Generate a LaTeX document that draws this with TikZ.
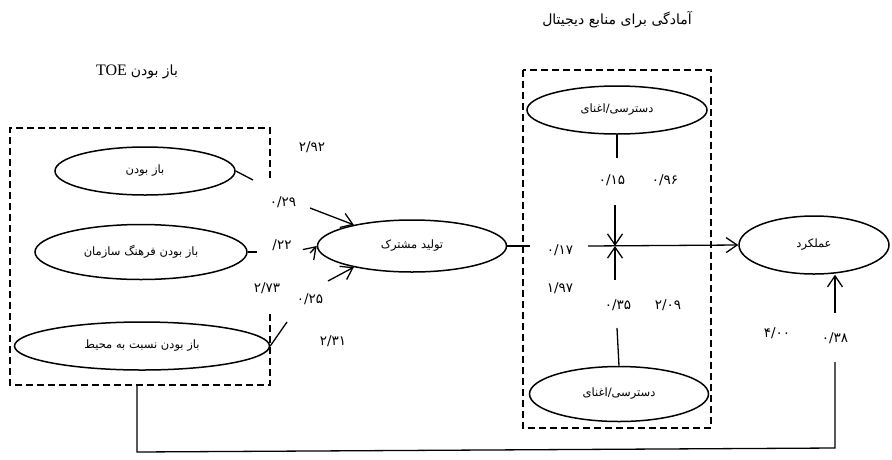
\documentclass[tikz,border=0pt]{standalone}
\usepackage{fontspec}
\setmainfont{Liberation Serif}
\newfontfamily\fa[Script=Arabic]{DejaVu Sans}
\TeXXeTstate=1
\usetikzlibrary{shapes.geometric,arrows.meta}

\begin{document}
\begin{tikzpicture}[x=1pt,y=-1pt,
    oval/.style={draw,ellipse,line width=1.5pt,inner sep=0pt,font=\fa\fontsize{11.5}{13}\selectfont},
    grp/.style={line width=2.6pt,dash pattern=on 7pt off 4pt},
    lnk/.style={line width=1.3pt},
    arr/.style={lnk,-{Straight Barb[length=11pt,width=15pt]}},
    num/.style={font=\fa\fontsize{13.5}{15}\selectfont}]
    \useasboundingbox (0,0) rectangle (892,459);
    % titles
    \node[font=\fontsize{16}{18}\selectfont] (t1) at (137,72) {TOE {\fa\fontsize{14}{16}\selectfont\beginR باز بودن\endR}};
    \node[font=\fa\fontsize{14}{16}\selectfont] (t2) at (617,20) {\beginR آمادگی برای منابع دیجیتال\endR};
    % dashed groups
    \draw[grp] (270,178) -- (270,128) -- (10,128) -- (10,385) -- (270,385) -- (270,312);
    \draw[grp] (523,70) rectangle (711,428);
    % constructs
    \node[oval,minimum width=180pt,minimum height=48pt] (e1) at (145,171) {\beginR باز بودن\endR};
    \node[oval,minimum width=212pt,minimum height=55pt] (e2) at (141,252) {\beginR باز بودن فرهنگ سازمان\endR};
    \node[oval,minimum width=255pt,minimum height=48pt] (e3) at (142,346) {\beginR باز بودن نسبت به محیط\endR};
    \node[oval,minimum width=189pt,minimum height=52pt] (co) at (412,246) {\beginR تولید مشترک\endR};
    \node[oval,minimum width=180pt,minimum height=48pt] (d1) at (617,110) {\beginR دسترسی/اغنای\endR};
    \node[oval,minimum width=179pt,minimum height=55pt] (d2) at (619,394) {\beginR دسترسی/اغنای\endR};
    \node[oval,minimum width=150pt,minimum height=58pt] (perf) at (814,245) {\beginR عملکرد\endR};
    % free ends
    \coordinate (s1) at (253,180);
    \coordinate (s2) at (257,252);
    \coordinate (s3) at (287,322);
    \coordinate (a1) at (310,208);
    \coordinate (a2) at (310,253);
    \coordinate (a3) at (328,281);
    \coordinate (s4) at (530,246);
    \coordinate (h0) at (588,246);
    \coordinate (j) at (615,246);
    \coordinate (v1) at (615,205);
    \coordinate (v2) at (615,280);
    \coordinate (d1s) at (617,158);
    \coordinate (d2n) at (617,328);
    \coordinate (fb0) at (137,385);
    \coordinate (fb1) at (137,452);
    \coordinate (fb2) at (835,448);
    \coordinate (fb3) at (835,362);
    \coordinate (fb4) at (835,313);
    % connectors
    \draw[lnk] (e1.east) -- (s1);
    \draw[lnk] (e2.east) -- (s2);
    \draw[lnk] (e3.east) -- (s3);
    \draw[arr] (a1) -- (co.160);
    \draw[arr] (a2) -- (co.west);
    \draw[arr] (a3) -- (co.200);
    \draw[lnk] (co.east) -- (s4);
    \draw[arr] (h0) -- (perf.west);
    \draw[arr] (v1) -- (j);
    \draw[arr] (v2) -- (j);
    \draw[lnk] (d1.south) -- (d1s);
    \draw[lnk] (d2.north) -- (d2n);
    \draw[lnk] (fb0) -- (fb1) -- (fb2) -- (fb3);
    \draw[arr] (fb4) -- (fb4 |- perf.south);
    % coefficients
    \node[num] (n1) at (312,147) {۲/۹۲};
    \node[num] (n2) at (283,202) {۰/۲۹};
    \node[num] (n3) at (282,245) {/\kern0pt ۲۲};
    \node[num] (n4) at (267,288) {۲/۷۳};
    \node[num] (n5) at (310,299) {۰/۲۵};
    \node[num] (n6) at (333,341) {۲/۳۱};
    \node[num] (n7) at (612,180) {۰/۱۵};
    \node[num] (n8) at (665,180) {۰/۹۶};
    \node[num] (n9) at (560,250) {۰/۱۷};
    \node[num] (n10) at (560,288) {۱/۹۷};
    \node[num] (n11) at (618,305) {۰/۳۵};
    \node[num] (n12) at (668,305) {۲/۰۹};
    \node[num] (n13) at (777,333) {۴/۰۰};
    \node[num] (n14) at (835,338) {۰/۳۸};
\end{tikzpicture}
\end{document}
